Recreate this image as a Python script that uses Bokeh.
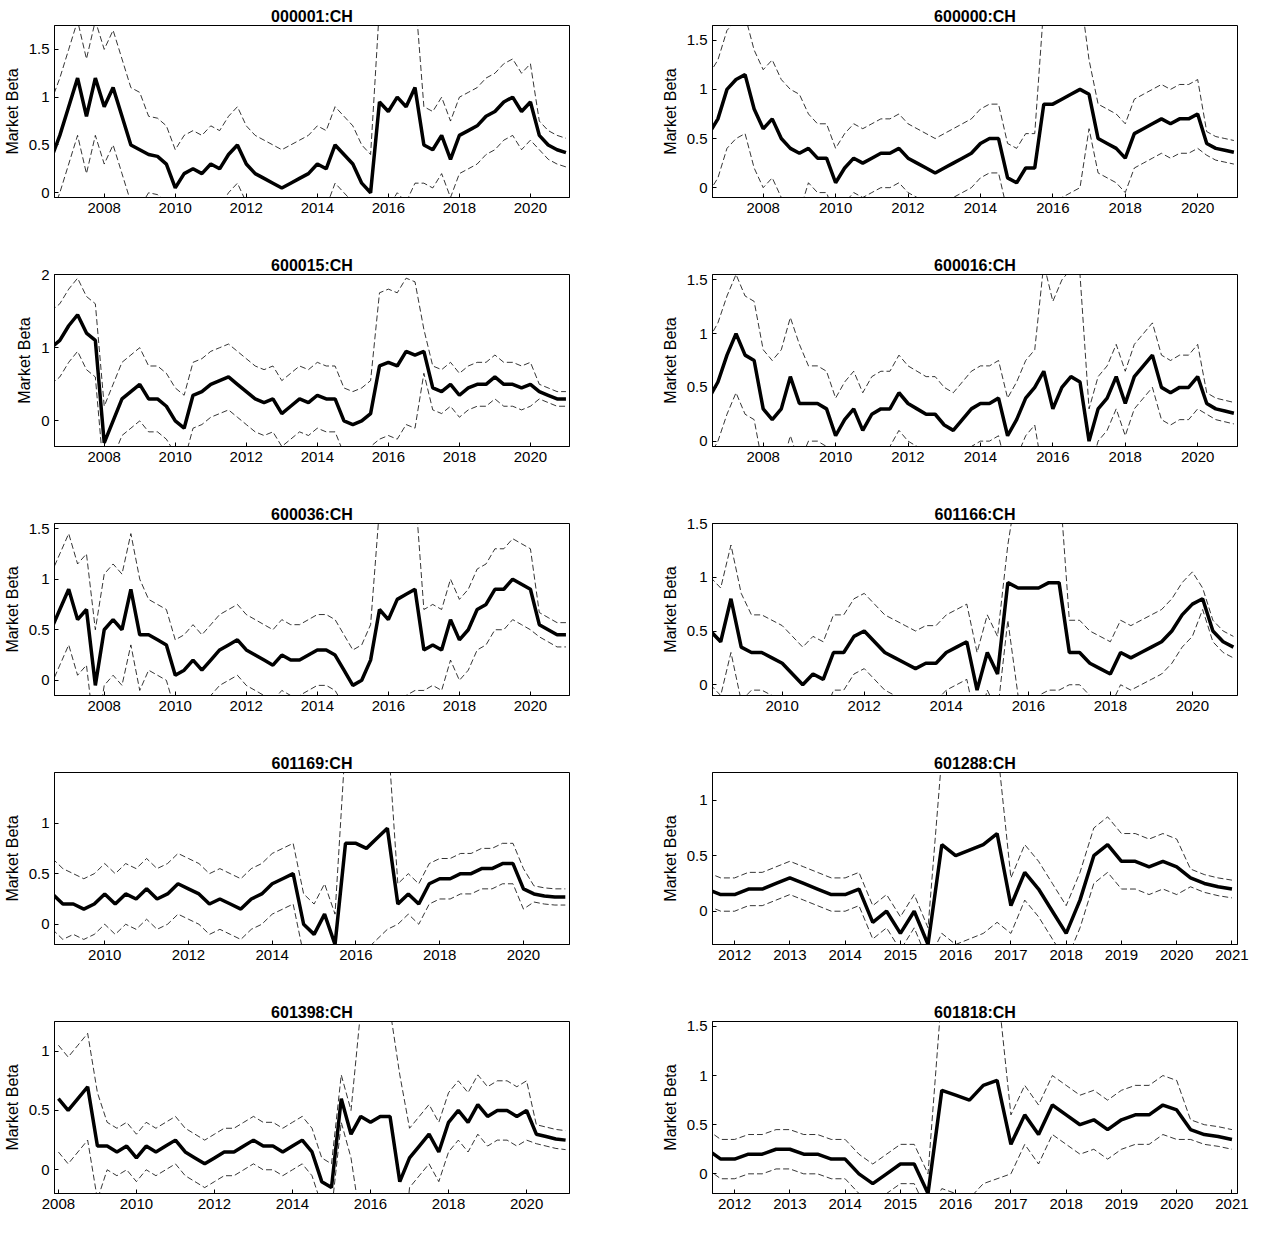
import numpy as np
from bokeh.plotting import figure
from bokeh.layouts import gridplot
from bokeh.models import FixedTicker, Range1d
from bokeh.embed import file_html
from bokeh.resources import INLINE

# panel info: name, first quarterly point, x range, y range
names = ["000001:CH", "600000:CH", "600015:CH", "600016:CH", "600036:CH",
         "601166:CH", "601169:CH", "601288:CH", "601398:CH", "601818:CH"]
t0 = [2006.5, 2006.5, 2006.5, 2006.5, 2006.5, 2008.25, 2008.75, 2011.5, 2008.0, 2011.5]
xlo = [2006.6, 2006.6, 2006.6, 2006.6, 2006.6, 2008.3, 2008.8, 2011.6, 2007.9, 2011.6]
xhi = 2021.1
ylo = [-0.05, -0.1, -0.35, -0.05, -0.15, -0.1, -0.2, -0.3, -0.2, -0.2]
yhi = [1.75, 1.65, 2.0, 1.55, 1.55, 1.5, 1.5, 1.25, 1.25, 1.55]
yticks = [[0, 0.5, 1, 1.5], [0, 0.5, 1, 1.5], [0, 1, 2], [0, 0.5, 1, 1.5], [0, 0.5, 1, 1.5],
          [0, 0.5, 1, 1.5], [0, 0.5, 1], [0, 0.5, 1], [0, 0.5, 1], [0, 0.5, 1, 1.5]]
xticks_even = list(range(2008, 2022, 2))
xticks_year = list(range(2012, 2022))

# quarterly beta estimates, one value every 0.25 year from t0
beta = [
    [0.35, 0.6, 0.9, 1.2, 0.8, 1.2, 0.9, 1.1, 0.8, 0.5, 0.45, 0.4, 0.38, 0.3, 0.05, 0.2, 0.25, 0.2, 0.3, 0.25,
     0.4, 0.5, 0.3, 0.2, 0.15, 0.1, 0.05, 0.1, 0.15, 0.2, 0.3, 0.25, 0.5, 0.4, 0.3, 0.1, 0.0, 0.95, 0.85, 1.0,
     0.9, 1.1, 0.5, 0.45, 0.6, 0.35, 0.6, 0.65, 0.7, 0.8, 0.85, 0.95, 1.0, 0.85, 0.95, 0.6, 0.5, 0.45, 0.42],
    [0.55, 0.7, 1.0, 1.1, 1.15, 0.8, 0.6, 0.7, 0.5, 0.4, 0.35, 0.4, 0.3, 0.3, 0.05, 0.2, 0.3, 0.25, 0.3, 0.35,
     0.35, 0.4, 0.3, 0.25, 0.2, 0.15, 0.2, 0.25, 0.3, 0.35, 0.45, 0.5, 0.5, 0.1, 0.05, 0.2, 0.2, 0.85, 0.85, 0.9,
     0.95, 1.0, 0.95, 0.5, 0.45, 0.4, 0.3, 0.55, 0.6, 0.65, 0.7, 0.65, 0.7, 0.7, 0.75, 0.45, 0.4, 0.38, 0.36],
    [1.0, 1.1, 1.3, 1.45, 1.2, 1.1, -0.3, 0.0, 0.3, 0.4, 0.5, 0.3, 0.3, 0.2, 0.0, -0.1, 0.35, 0.4, 0.5, 0.55,
     0.6, 0.5, 0.4, 0.3, 0.25, 0.3, 0.1, 0.2, 0.3, 0.25, 0.35, 0.3, 0.3, 0.0, -0.05, 0.0, 0.1, 0.75, 0.8, 0.75,
     0.95, 0.9, 0.95, 0.45, 0.4, 0.5, 0.35, 0.45, 0.5, 0.5, 0.6, 0.5, 0.5, 0.45, 0.5, 0.4, 0.35, 0.3, 0.3],
    [0.4, 0.55, 0.8, 1.0, 0.8, 0.75, 0.3, 0.2, 0.3, 0.6, 0.35, 0.35, 0.35, 0.3, 0.05, 0.2, 0.3, 0.1, 0.25, 0.3,
     0.3, 0.45, 0.35, 0.3, 0.25, 0.25, 0.15, 0.1, 0.2, 0.3, 0.35, 0.35, 0.4, 0.05, 0.2, 0.4, 0.5, 0.65, 0.3, 0.5,
     0.6, 0.55, 0.0, 0.3, 0.4, 0.6, 0.35, 0.6, 0.7, 0.8, 0.5, 0.45, 0.5, 0.5, 0.6, 0.35, 0.3, 0.28, 0.26],
    [0.5, 0.7, 0.9, 0.6, 0.7, -0.05, 0.5, 0.6, 0.5, 0.9, 0.45, 0.45, 0.4, 0.35, 0.05, 0.1, 0.2, 0.1, 0.2, 0.3,
     0.35, 0.4, 0.3, 0.25, 0.2, 0.15, 0.25, 0.2, 0.2, 0.25, 0.3, 0.3, 0.25, 0.1, -0.05, 0.0, 0.2, 0.7, 0.6, 0.8,
     0.85, 0.9, 0.3, 0.35, 0.3, 0.6, 0.4, 0.5, 0.7, 0.75, 0.9, 0.9, 1.0, 0.95, 0.9, 0.55, 0.5, 0.45, 0.45],
    [0.5, 0.4, 0.8, 0.35, 0.3, 0.3, 0.25, 0.2, 0.1, 0.0, 0.1, 0.05, 0.3, 0.3, 0.45, 0.5, 0.4, 0.3, 0.25, 0.2,
     0.15, 0.2, 0.2, 0.3, 0.35, 0.4, -0.05, 0.3, 0.1, 0.95, 0.9, 0.9, 0.9, 0.95, 0.95, 0.3, 0.3, 0.2, 0.15, 0.1,
     0.3, 0.25, 0.3, 0.35, 0.4, 0.5, 0.65, 0.75, 0.8, 0.5, 0.4, 0.35],
    [0.3, 0.2, 0.2, 0.15, 0.2, 0.3, 0.2, 0.3, 0.25, 0.35, 0.25, 0.3, 0.4, 0.35, 0.3, 0.2, 0.25, 0.2, 0.15, 0.25,
     0.3, 0.4, 0.45, 0.5, 0.0, -0.1, 0.1, -0.2, 0.8, 0.8, 0.75, 0.85, 0.95, 0.2, 0.3, 0.2, 0.4, 0.45, 0.45,
     0.5, 0.5, 0.55, 0.55, 0.6, 0.6, 0.35, 0.3, 0.28, 0.27, 0.27],
    [0.2, 0.15, 0.15, 0.2, 0.2, 0.25, 0.3, 0.25, 0.2, 0.15, 0.15, 0.2, -0.1, 0.0, -0.2, 0.0, -0.3, 0.6, 0.5,
     0.55, 0.6, 0.7, 0.05, 0.35, 0.2, 0.0, -0.2, 0.1, 0.5, 0.6, 0.45, 0.45, 0.4, 0.45, 0.4, 0.3, 0.25, 0.22, 0.2],
    [0.6, 0.5, 0.6, 0.7, 0.2, 0.2, 0.15, 0.2, 0.1, 0.2, 0.15, 0.2, 0.25, 0.15, 0.1, 0.05, 0.1, 0.15, 0.15, 0.2,
     0.25, 0.2, 0.2, 0.15, 0.2, 0.25, 0.15, -0.1, -0.15, 0.6, 0.3, 0.45, 0.4, 0.45, 0.45, -0.1, 0.1, 0.2, 0.3,
     0.15, 0.4, 0.5, 0.4, 0.55, 0.45, 0.5, 0.5, 0.45, 0.5, 0.3, 0.28, 0.26, 0.25],
    [0.25, 0.15, 0.15, 0.2, 0.2, 0.25, 0.25, 0.2, 0.2, 0.15, 0.15, 0.0, -0.1, 0.0, 0.1, 0.1, -0.2, 0.85, 0.8,
     0.75, 0.9, 0.95, 0.3, 0.6, 0.4, 0.7, 0.6, 0.5, 0.55, 0.45, 0.55, 0.6, 0.6, 0.7, 0.65, 0.45, 0.4, 0.38, 0.35],
]

# band half widths per period: before 2009, 2009-2015.6, regime, 2017-2020.2, tail
band_breaks = [2009.0, 2015.6, 2016.95, 2020.2]
band_w = [
    [0.6, 0.4, 1.0, 0.4, 0.15],
    [0.6, 0.35, 1.0, 0.35, 0.12],
    [0.5, 0.45, 1.0, 0.3, 0.1],
    [0.55, 0.35, 1.0, 0.3, 0.1],
    [0.55, 0.35, 1.0, 0.4, 0.12],
    [0.5, 0.35, 1.0, 0.3, 0.1],
    [0.35, 0.3, 1.0, 0.2, 0.08],
    [0.2, 0.15, 0.8, 0.25, 0.08],
    [0.45, 0.2, 0.9, 0.25, 0.08],
    [0.3, 0.2, 1.0, 0.3, 0.1],
]

FONT = "Liberation Sans"
figs = []
for i in range(10):
    left = i % 2 == 0
    last = i >= 8
    b = np.array(beta[i])
    t = t0[i] + 0.25 * np.arange(len(b))
    w = np.array(band_w[i])[np.searchsorted(band_breaks, t)]
    p = figure(width=624 if left else 633, height=232 if last else 249,
               x_range=Range1d(xlo[i], xhi), y_range=Range1d(ylo[i], yhi[i]),
               output_backend="svg", toolbar_location=None,
               min_border_left=44 if left else 88, min_border_right=55 if left else 20,
               min_border_top=25, min_border_bottom=35 if last else 52)
    p.title.text = names[i]
    p.title.align = "center"
    p.title.text_font = FONT
    p.title.text_font_size = "16px"
    p.title.text_font_style = "bold"
    p.title.text_color = "black"
    p.title.standoff = 2
    p.line(t, b + w, line_color="black", line_width=0.8, line_dash="6 3")
    p.line(t, b - w, line_color="black", line_width=0.8, line_dash="6 3")
    p.line(t, b, line_color="black", line_width=3.5)
    p.grid.visible = False
    p.outline_line_color = "black"
    p.outline_line_width = 1
    xt = xticks_year if i in (7, 9) else xticks_even
    p.xaxis.ticker = FixedTicker(ticks=xt)
    p.xaxis.major_label_overrides = {y: str(y) for y in xt}
    yt = yticks[i]
    p.yaxis.ticker = FixedTicker(ticks=yt)
    p.yaxis.major_label_overrides = {v: ("%g" % v) for v in yt}
    p.yaxis.axis_label = "Market Beta"
    for ax in (p.xaxis, p.yaxis):
        ax.major_tick_in = 4
        ax.major_tick_out = 0
        ax.minor_tick_line_color = None
        ax.major_label_text_font = FONT
        ax.major_label_text_font_size = "15px"
        ax.major_label_text_color = "black"
        ax.axis_label_text_font = FONT
        ax.axis_label_text_font_size = "16px"
        ax.axis_label_text_font_style = "normal"
        ax.axis_label_text_color = "black"
        ax.axis_line_color = "black"
    figs.append(p)

rows = [[figs[2 * r], figs[2 * r + 1]] for r in range(5)]
p = gridplot(rows, toolbar_location=None)
open("out.html", "w").write(file_html(p, INLINE))
